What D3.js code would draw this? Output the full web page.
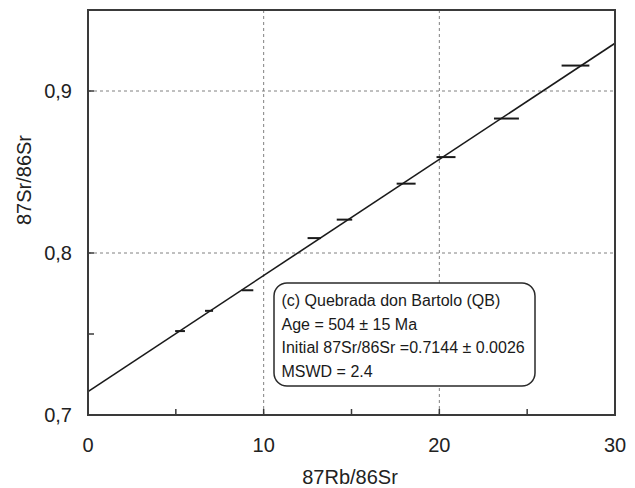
<!DOCTYPE html>
<html>
<head>
<meta charset="utf-8">
<script src="https://cdn.jsdelivr.net/npm/d3@7"></script>
<style>
  body { margin: 0; background: #fff; }
  svg { display: block; font-family: "Liberation Sans", Arial, sans-serif; }
  .grid line { stroke: #808080; stroke-width: 1; stroke-dasharray: 3,3; }
  .frame { fill: none; stroke: #3a3a3a; stroke-width: 2; }
</style>
</head>
<body>
<div id="chart"></div>
<script>
// sample ratios (87Rb/86Sr, 87Sr/86Sr) and 2-sigma x errors
var rbSr   = [5.24, 6.89, 9.08, 12.88, 14.60, 18.11, 20.38, 23.82, 27.75];
var srSr   = [0.7518, 0.7643, 0.7770, 0.8092, 0.8206, 0.8428, 0.8592, 0.8830, 0.9157];
var rbErr  = [0.28, 0.23, 0.33, 0.38, 0.44, 0.54, 0.54, 0.71, 0.79];

// isochron fit
var intercept = 0.7144;
var slope = 0.00717;

var xTicks = [0, 10, 20, 30];
var xMinor = [5, 15, 25];
var yTicks = [0.7, 0.8, 0.9];
var yMinor = [0.75];

var boxLines = [
  "(c) Quebrada don Bartolo (QB)",
  "Age = 504 \u00b1 15 Ma",
  "Initial 87Sr/86Sr =0.7144 \u00b1 0.0026",
  "MSWD = 2.4"
];

var W = 635, H = 488;
var m = {left: 88, right: 20, top: 10, bottom: 73};

var svg = d3.select("#chart").append("svg")
  .attr("width", W).attr("height", H);

var x = d3.scaleLinear().domain([0, 30]).range([m.left, W - m.right]);
var y = d3.scaleLinear().domain([0.7, 0.95]).range([H - m.bottom, m.top]);

// dashed grid at inner major ticks
var grid = svg.append("g").attr("class", "grid");
grid.selectAll(".gx").data([10, 20]).enter().append("line")
  .attr("x1", d => x(d)).attr("x2", d => x(d))
  .attr("y1", y.range()[0]).attr("y2", y.range()[1]);
grid.selectAll(".gy").data([0.8, 0.9]).enter().append("line")
  .attr("y1", d => y(d)).attr("y2", d => y(d))
  .attr("x1", x.range()[0]).attr("x2", x.range()[1]);

// inward ticks
var ticks = svg.append("g").attr("stroke", "#3a3a3a").attr("stroke-width", 1.5);
ticks.selectAll(".tx").data(xMinor.concat([10, 20])).enter().append("line")
  .attr("x1", d => x(d)).attr("x2", d => x(d))
  .attr("y1", y(0.7)).attr("y2", y(0.7) - 6);
ticks.selectAll(".ty").data(yMinor.concat([0.8, 0.9])).enter().append("line")
  .attr("y1", d => y(d)).attr("y2", d => y(d))
  .attr("x1", x(0)).attr("x2", x(0) + 6);

// isochron
svg.append("line")
  .attr("x1", x(0)).attr("y1", y(intercept))
  .attr("x2", x(30)).attr("y2", y(intercept + slope * 30))
  .attr("stroke", "#1a1a1a").attr("stroke-width", 1.6);

// error bars
svg.selectAll(".err").data(rbSr).enter().append("line")
  .attr("x1", (d, i) => x(d - rbErr[i]))
  .attr("x2", (d, i) => x(d + rbErr[i]))
  .attr("y1", (d, i) => y(srSr[i]))
  .attr("y2", (d, i) => y(srSr[i]))
  .attr("stroke", "#1a1a1a").attr("stroke-width", 2);

// frame
svg.append("rect").attr("class", "frame")
  .attr("x", x(0)).attr("y", y(0.95))
  .attr("width", x(30) - x(0)).attr("height", y(0.7) - y(0.95));

// tick labels
svg.selectAll(".xl").data(xTicks).enter().append("text")
  .attr("x", d => x(d)).attr("y", 451.5)
  .attr("text-anchor", "middle").attr("font-size", 20).attr("fill", "#222")
  .text(d => d);
svg.selectAll(".yl").data(yTicks).enter().append("text")
  .attr("x", 72).attr("y", d => y(d) + 7.3)
  .attr("text-anchor", "end").attr("font-size", 20).attr("fill", "#222")
  .text(d => d3.format(".1f")(d).replace(".", ","));

// axis titles
svg.append("text").attr("x", 350).attr("y", 484)
  .attr("text-anchor", "middle").attr("font-size", 20).attr("fill", "#222")
  .text("87Rb/86Sr");
svg.append("text").attr("transform", "translate(31,180) rotate(-90)")
  .attr("text-anchor", "middle").attr("font-size", 20).attr("fill", "#222")
  .text("87Sr/86Sr");

// annotation box
var box = svg.append("g");
box.append("rect")
  .attr("x", 274).attr("y", 283).attr("width", 261).attr("height", 103)
  .attr("rx", 13).attr("ry", 13)
  .attr("fill", "#fff").attr("stroke", "#2a2a2a").attr("stroke-width", 1.5);
box.selectAll("text").data(boxLines).enter().append("text")
  .attr("x", 281.5).attr("y", (d, i) => 306 + i * 23.5)
  .attr("font-size", 16).attr("fill", "#1a1a1a")
  .text(d => d);
</script>
</body>
</html>
